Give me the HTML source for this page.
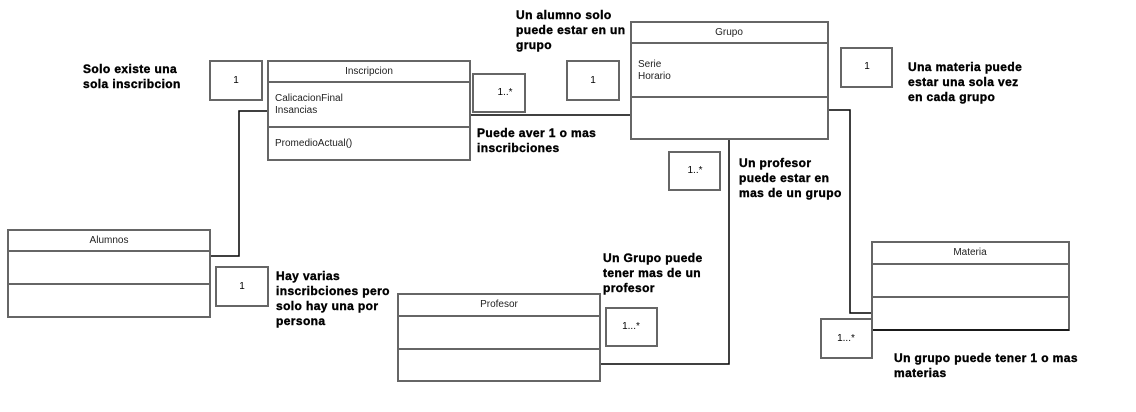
<!DOCTYPE html>
<html><head><meta charset="utf-8"><style>
html,body{margin:0;padding:0;background:#fff;}
svg{display:block;}
.b{fill:#fff;stroke:#666;stroke-width:2}
.l{stroke:#666;stroke-width:2;fill:none}
.c{stroke:#000;stroke-width:1.5;fill:none}
.t{font-family:"Liberation Sans",sans-serif;font-size:10px;fill:#222}
.n{font-family:"Liberation Sans",sans-serif;font-size:10px;fill:#000}
.k{font-family:"Liberation Sans",sans-serif;font-size:12px;font-weight:bold;fill:#000;letter-spacing:0.4px;stroke:#000;stroke-width:0.4}
</style></head><body>
<svg width="1136" height="412" viewBox="0 0 1136 412">
<polyline class="c" points="210,256 239,256 239,111 268,111"/>
<line class="c" x1="470" y1="115" x2="631" y2="115"/>
<polyline class="c" points="828,110 850,110 850,313 872,313"/>
<polyline class="c" points="729,139 729,364 600,364"/>
<rect class="b" x="268" y="61" width="202" height="99"/>
<line class="l" x1="268" y1="82" x2="470" y2="82"/><line class="l" x1="268" y1="127" x2="470" y2="127"/>
<text class="t" x="369" y="74" text-anchor="middle">Inscripcion</text>
<text class="t" x="275" y="101">CalicacionFinal</text>
<text class="t" x="275" y="113">Insancias</text>
<text class="t" x="275" y="146">PromedioActual()</text>
<rect class="b" x="631" y="22" width="197" height="117"/>
<line class="l" x1="631" y1="43" x2="828" y2="43"/><line class="l" x1="631" y1="97" x2="828" y2="97"/>
<text class="t" x="729" y="35" text-anchor="middle">Grupo</text>
<text class="t" x="638" y="67">Serie</text>
<text class="t" x="638" y="79">Horario</text>
<rect class="b" x="8" y="230" width="202" height="87"/>
<line class="l" x1="8" y1="251" x2="210" y2="251"/><line class="l" x1="8" y1="284" x2="210" y2="284"/>
<text class="t" x="109" y="243" text-anchor="middle">Alumnos</text>
<rect class="b" x="398" y="294" width="202" height="87"/>
<line class="l" x1="398" y1="316" x2="600" y2="316"/><line class="l" x1="398" y1="349" x2="600" y2="349"/>
<text class="t" x="499" y="307" text-anchor="middle">Profesor</text>
<rect class="b" x="872" y="242" width="197" height="88"/>
<line class="l" x1="872" y1="264" x2="1069" y2="264"/><line class="l" x1="872" y1="297" x2="1069" y2="297"/>
<line class="c" x1="872" y1="330" x2="1069" y2="330"/>
<text class="t" x="970" y="255" text-anchor="middle">Materia</text>
<rect class="b" x="210" y="61" width="52" height="39"/><text class="n" x="236" y="83" text-anchor="middle">1</text>
<rect class="b" x="473" y="74" width="52" height="38"/><text class="n" x="505" y="95" text-anchor="middle">1..*</text>
<rect class="b" x="567" y="61" width="52" height="39"/><text class="n" x="593" y="83" text-anchor="middle">1</text>
<rect class="b" x="841" y="48" width="51" height="39"/><text class="n" x="867" y="69" text-anchor="middle">1</text>
<rect class="b" x="669" y="152" width="51" height="38"/><text class="n" x="695" y="173" text-anchor="middle">1..*</text>
<rect class="b" x="216" y="267" width="52" height="39"/><text class="n" x="242" y="289" text-anchor="middle">1</text>
<rect class="b" x="606" y="308" width="51" height="38"/><text class="n" x="631" y="329" text-anchor="middle">1...*</text>
<rect class="b" x="821" y="319" width="51" height="39"/><text class="n" x="846" y="341" text-anchor="middle">1...*</text>
<text class="k"><tspan x="83" y="73">Solo existe una</tspan><tspan x="83" y="88">sola inscribcion</tspan></text>
<text class="k"><tspan x="516" y="19">Un alumno solo</tspan><tspan x="516" y="34">puede estar en un</tspan><tspan x="516" y="49">grupo</tspan></text>
<text class="k"><tspan x="477" y="137">Puede aver 1 o mas</tspan><tspan x="477" y="152">inscribciones</tspan></text>
<text class="k"><tspan x="908" y="71">Una materia puede</tspan><tspan x="908" y="86">estar una sola vez</tspan><tspan x="908" y="101">en cada grupo</tspan></text>
<text class="k"><tspan x="739" y="167">Un profesor</tspan><tspan x="739" y="182">puede estar en</tspan><tspan x="739" y="197">mas de un grupo</tspan></text>
<text class="k"><tspan x="276" y="280">Hay varias</tspan><tspan x="276" y="295">inscribciones pero</tspan><tspan x="276" y="310">solo hay una por</tspan><tspan x="276" y="325">persona</tspan></text>
<text class="k"><tspan x="603" y="262">Un Grupo puede</tspan><tspan x="603" y="277">tener mas de un</tspan><tspan x="603" y="292">profesor</tspan></text>
<text class="k"><tspan x="894" y="362">Un grupo puede tener 1 o mas</tspan><tspan x="894" y="377">materias</tspan></text>
</svg>
</body></html>
